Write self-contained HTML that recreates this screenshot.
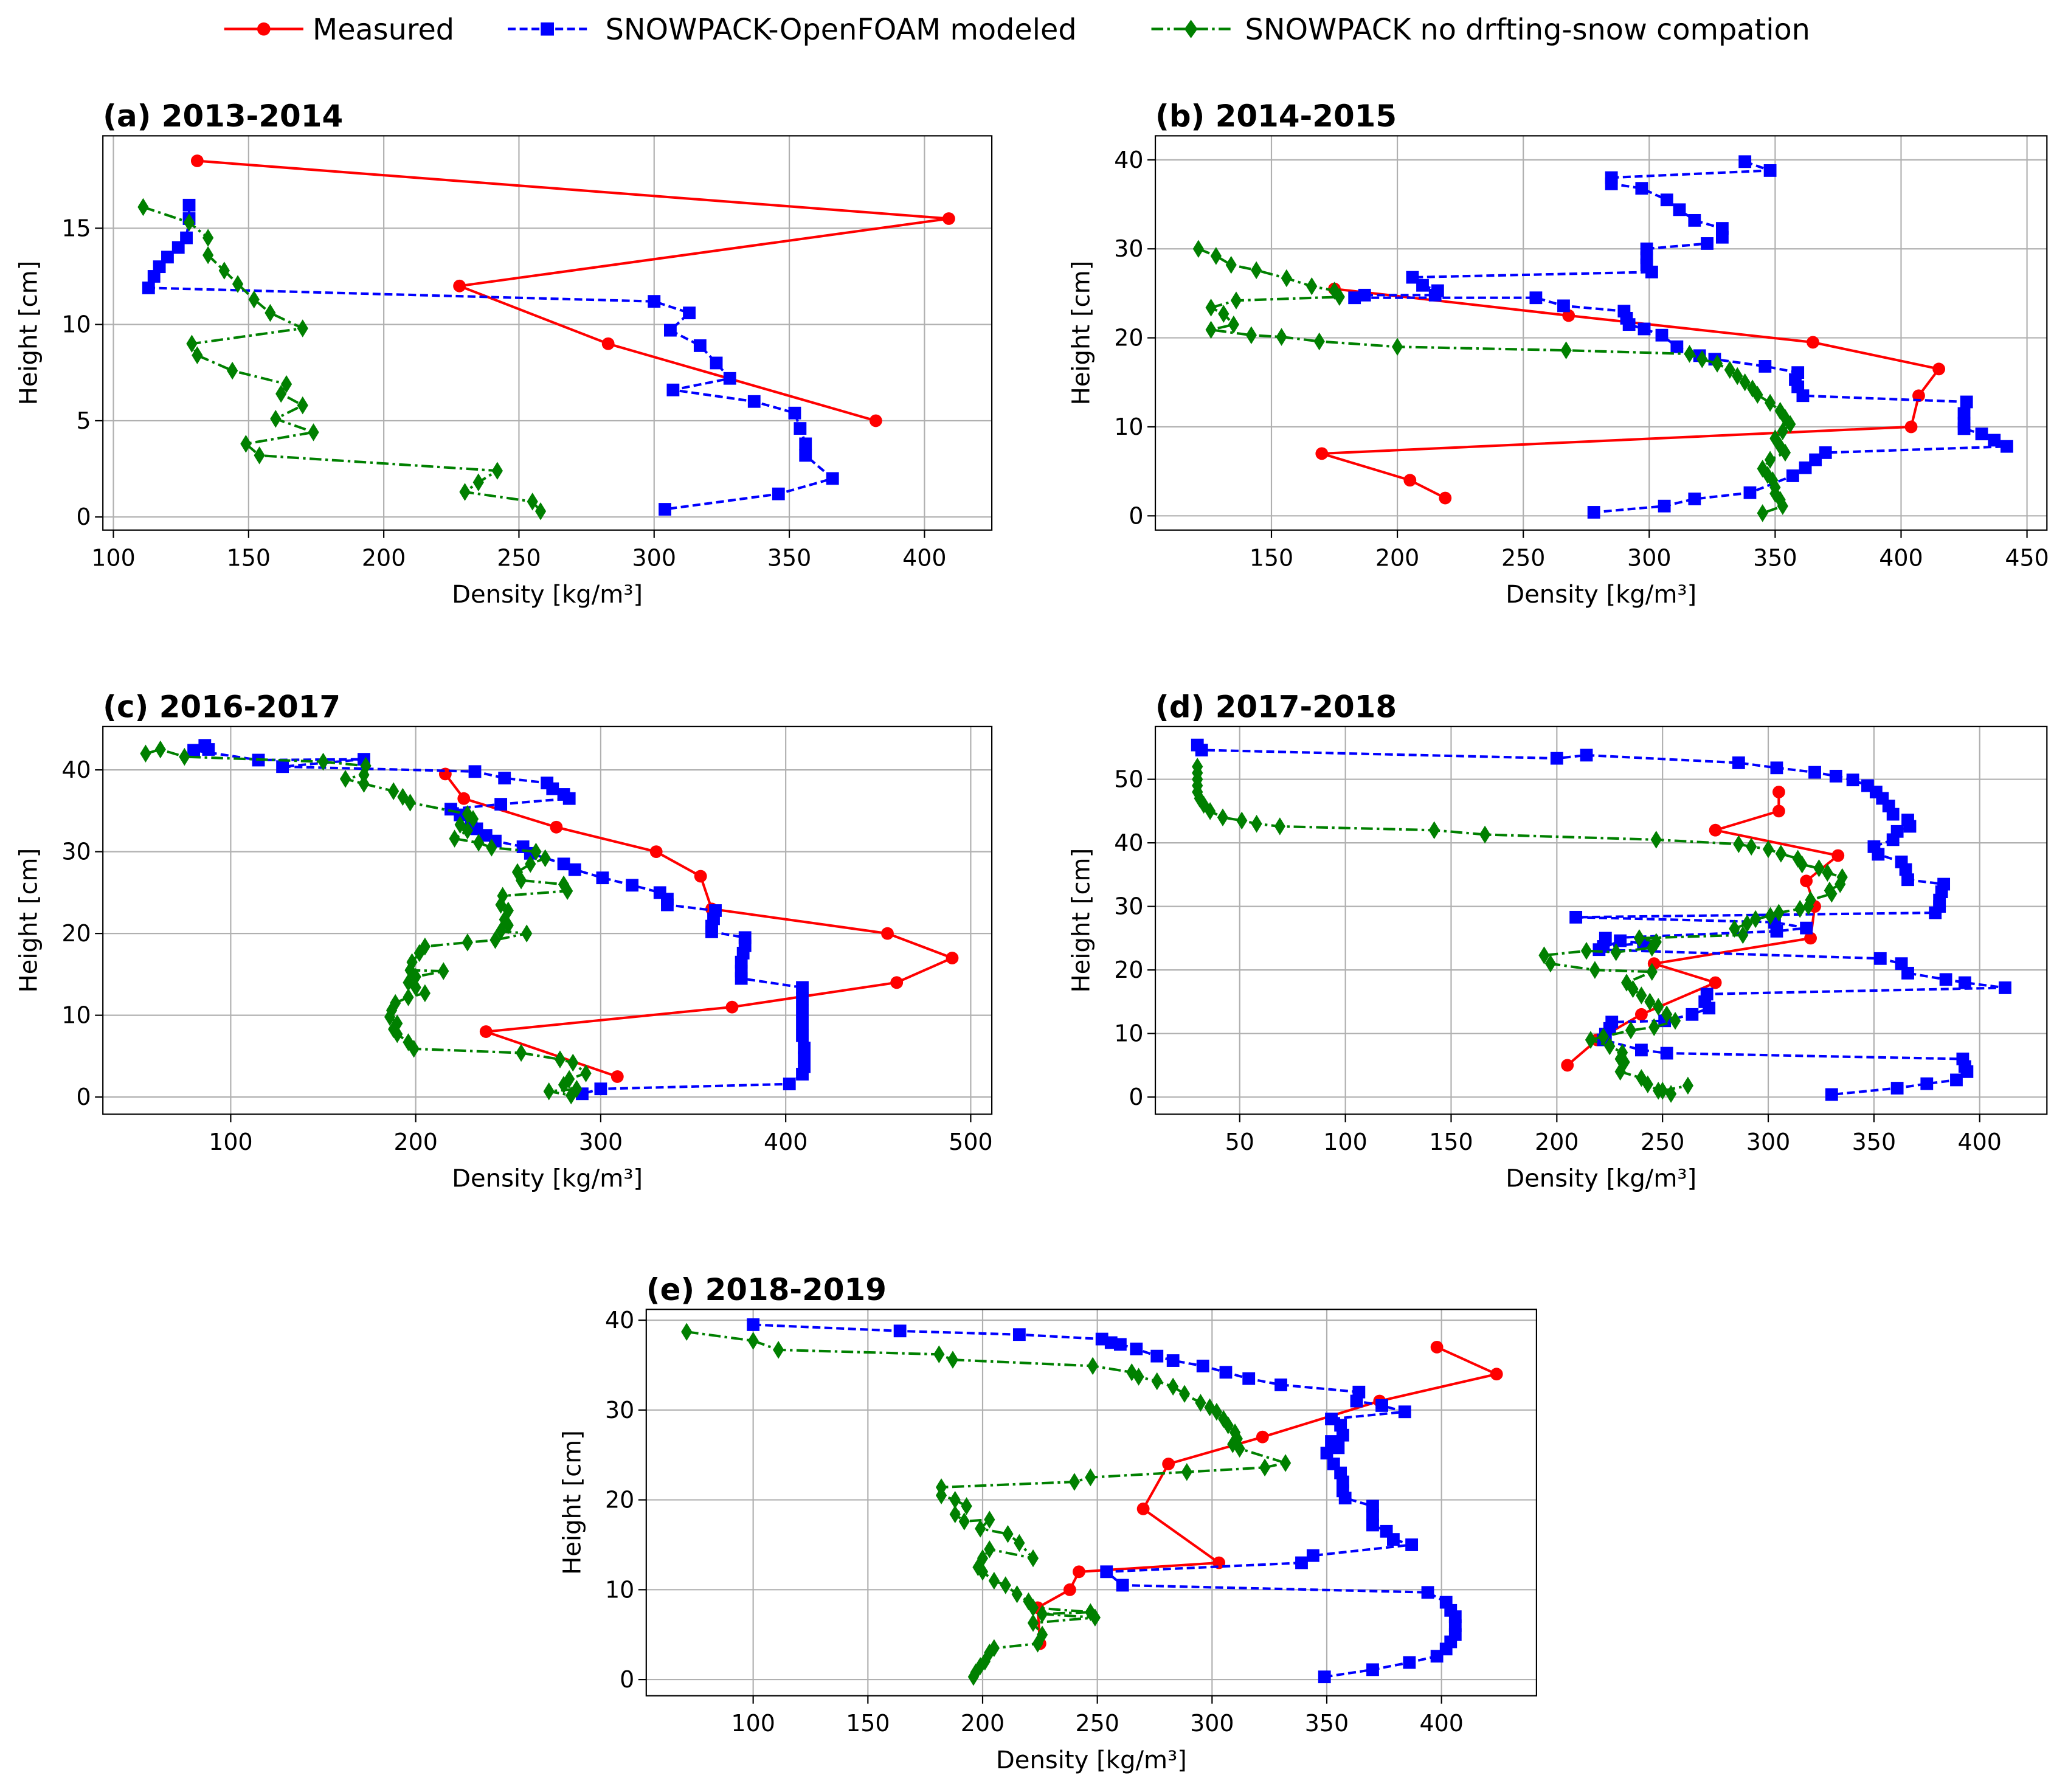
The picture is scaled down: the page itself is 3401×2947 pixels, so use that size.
<!DOCTYPE html>
<html><head><meta charset="utf-8"><style>
html,body{margin:0;padding:0;background:#fff}
svg{display:block}
text{font-family:"DejaVu Sans","Liberation Sans",sans-serif;fill:#000}
</style></head><body>
<svg id="chart" width="3401" height="2947" viewBox="0 0 1568 1359" preserveAspectRatio="none" xmlns="http://www.w3.org/2000/svg">
<rect width="1568" height="1359" fill="#fff"/>
<g>
<g><line x1="170" y1="22" x2="230" y2="22" stroke="#ff0000" stroke-width="2"/><circle cx="200" cy="22" r="5" fill="#ff0000"/><text x="237" y="30" font-size="22">Measured</text></g>
<g><line x1="385" y1="22" x2="445" y2="22" stroke="#0000ff" stroke-width="2" stroke-dasharray="6,3"/><rect x="410" y="17" width="10" height="10" fill="#0000ff"/><text x="459" y="30" font-size="22">SNOWPACK-OpenFOAM modeled</text></g>
<g><line x1="873" y1="22" x2="933" y2="22" stroke="#008000" stroke-width="2" stroke-dasharray="9,3,2,3"/><path d="M903,15 L908,22 L903,29 L898,22 Z" fill="#008000"/><text x="944" y="30" font-size="22">SNOWPACK no drfting-snow compation</text></g>
</g>
<g id="plots"></g>
</svg>
<script>
const titles=["(a) 2013-2014","(b) 2014-2015","(c) 2016-2017","(d) 2017-2018","(e) 2018-2019"];
const xTicksA=[100,150,200,250,300,350,400], yTicksA=[0,5,10,15];
const xTicksB=[150,200,250,300,350,400,450], yTicksB=[0,10,20,30,40];
const xTicksC=[100,200,300,400,500], yTicksC=[0,10,20,30,40];
const xTicksD=[50,100,150,200,250,300,350,400], yTicksD=[0,10,20,30,40,50];
const xTicksE=[100,150,200,250,300,350,400], yTicksE=[0,10,20,30,40];

const measA=[[131,18.5],[409,15.5],[228,12],[283,9],[382,5]];
const blueA=[[128,16.2],[128,15.5],[127,14.5],[124,14],[120,13.5],[117,13],[115,12.5],[113,11.9],[300,11.2],[313,10.6],[306,9.7],[317,8.9],[323,8],[328,7.2],[307,6.6],[337,6.0],[352,5.4],[354,4.6],[356,3.8],[356,3.2],[366,2],[346,1.2],[304,0.4]];
const greenA=[[111,16.1],[128,15.3],[135,14.5],[135,13.6],[141,12.8],[146,12.1],[152,11.3],[158,10.6],[170,9.8],[129,9.0],[131,8.4],[144,7.6],[164,6.9],[162,6.4],[170,5.8],[160,5.1],[174,4.4],[149,3.8],[154,3.2],[242,2.4],[235,1.8],[230,1.3],[255,0.8],[258,0.3]];

const measB=[[175,25.5],[268,22.5],[365,19.5],[415,16.5],[407,13.5],[404,10],[170,7],[205,4],[219,2]];
const blueB=[[338,39.8],[348,38.8],[285,38],[285,37.3],[297,36.8],[307,35.5],[312,34.4],[318,33.2],[329,32.3],[329,31.3],[323,30.6],[299,30],[299,29],[299,28.2],[301,27.4],[206,26.8],[210,25.9],[216,25.3],[215,24.8],[187,24.8],[183,24.5],[255,24.5],[266,23.6],[290,23],[291,22.2],[292,21.5],[298,21],[305,20.3],[311,19],[320,18],[326,17.6],[346,16.8],[359,16.1],[358,15.3],[359,14.5],[361,13.5],[426,12.8],[425,11.5],[425,10.4],[425,9.8],[432,9.2],[437,8.5],[442,7.8],[370,7.1],[366,6.3],[362,5.4],[357,4.5],[340,2.6],[318,1.9],[306,1.1],[278,0.4]];
const greenB=[[121,30],[128,29.2],[134,28.2],[144,27.6],[156,26.7],[166,25.8],[175,25.3],[177,24.6],[136,24.2],[126,23.4],[131,22.7],[135,21.5],[126,20.9],[142,20.3],[154,20.1],[169,19.6],[200,19.0],[267,18.6],[316,18.2],[321,17.6],[327,17.1],[332,16.4],[335,15.7],[338,15],[341,14.3],[343,13.6],[348,12.7],[352,11.8],[354,11.0],[356,10.3],[353,9.5],[350,8.7],[352,7.8],[354,7.1],[348,6.3],[345,5.3],[347,4.6],[349,4],[350,3.2],[350,2.5],[352,1.8],[353,1.1],[345,0.3]];

const measC=[[216,39.5],[226,36.5],[276,33],[330,30],[354,27],[360,23],[455,20],[490,17],[460,14],[371,11],[238,8],[309,2.5]];
const blueC=[[86,43],[88,42.5],[80,42.4],[115,41.2],[172,41.3],[128,40.4],[232,39.8],[248,39],[271,38.4],[274,37.7],[280,37],[283,36.5],[246,35.8],[219,35.2],[224,34.5],[230,33.4],[233,32.8],[238,32],[243,31.3],[258,30.6],[262,29.8],[280,28.5],[286,27.8],[301,26.8],[317,25.9],[332,25],[336,24.2],[336,23.5],[362,22.8],[361,21.8],[360,20.9],[360,20.2],[378,19.5],[378,18.5],[377,17.6],[376,16.5],[376,15.4],[376,14.5],[409,13.4],[409,12],[409,10.5],[409,9],[409,7.5],[410,6],[410,4.8],[410,3.7],[409,2.8],[402,1.6],[300,1],[290,0.4]];
const greenC=[[54,42],[62,42.5],[75,41.6],[150,41],[173,40.5],[172,39.4],[162,38.9],[172,38.3],[188,37.4],[193,36.7],[197,36],[228,34.6],[231,34],[224,33.3],[228,32.6],[221,31.6],[234,31.1],[241,30.5],[265,30],[270,29.2],[262,28.5],[255,27.5],[257,26.5],[280,26],[282,25.2],[247,24.6],[246,23.5],[250,22.8],[248,21.7],[250,21],[246,20.3],[260,20],[243,19.2],[228,18.9],[205,18.4],[202,17.6],[198,16.5],[197,15.5],[215,15.4],[200,14.7],[196,14],[200,13.4],[205,12.7],[196,12.2],[189,11.5],[187,10.6],[186,9.8],[190,9],[188,8.3],[190,7.7],[196,6.7],[199,5.9],[257,5.4],[278,4.6],[285,4.2],[292,2.9],[283,2.2],[280,1.5],[287,1],[272,0.7],[284,0.2]];

const measD=[[305,48],[305,45],[275,42],[333,38],[318,34],[322,30],[320,25],[246,21],[275,18],[240,13],[219,9],[205,5]];
const blueD=[[30,55.4],[32,54.6],[200,53.3],[214,53.8],[286,52.6],[304,51.8],[322,51.1],[332,50.5],[340,49.9],[347,49],[351,48],[354,47],[357,45.8],[359,44.5],[366,43.6],[367,42.6],[361,41.8],[359,40.5],[350,39.4],[352,38.2],[363,37],[365,35.8],[366,34.2],[383,33.5],[382,32.3],[381,31],[381,30],[379,29],[209,28.3],[303,27.5],[318,26.6],[304,26.1],[223,25],[222,23.7],[241,24.2],[230,24.6],[220,23.2],[353,21.8],[363,21],[366,19.5],[384,18.5],[393,18],[412,17.2],[271,16.2],[270,15],[272,14],[264,13],[251,12],[226,11.8],[225,10.8],[223,9.9],[222,9],[240,7.4],[252,6.9],[392,6],[393,4.8],[394,4],[389,2.7],[375,2.1],[361,1.4],[330,0.4]];
const greenD=[[30,52],[30,51],[30,50],[30,49],[30,48],[31,47],[33,46],[36,45],[42,44],[51,43.5],[58,43],[69,42.6],[142,42],[166,41.3],[247,40.5],[286,39.8],[292,39.4],[300,39],[306,38.3],[314,37.5],[316,36.6],[324,36],[328,35.3],[335,34.6],[334,33.5],[329,32.5],[330,32],[320,31],[319,30],[315,29.6],[305,29],[301,28.5],[294,28],[290,27.3],[284,26.5],[288,25.5],[239,25],[247,24.4],[245,23.5],[228,22.8],[214,23],[194,22.3],[197,21],[218,20],[245,19.7],[233,18],[236,17],[240,16],[244,15],[248,14.2],[252,13],[256,12],[246,11],[235,10.5],[222,9.5],[216,9],[225,8],[231,7],[230,6],[232,5.5],[230,4],[240,3],[243,2],[248,1],[254,0.5],[250,1],[262,1.8]];

const measE=[[398,37],[424,34],[373,31],[322,27],[281,24],[270,19],[303,13],[242,12],[238,10],[224,8],[225,4]];
const blueE=[[100,39.5],[164,38.8],[216,38.4],[252,37.9],[256,37.5],[260,37.3],[267,36.8],[276,36],[283,35.5],[296,34.9],[306,34.2],[316,33.5],[330,32.8],[364,32],[363,31],[374,30.5],[384,29.8],[352,29],[356,28.3],[357,27.2],[352,26.5],[355,25.8],[350,25.2],[353,24],[356,23],[357,22],[357,21],[358,20.2],[370,19.3],[370,18.3],[370,17.2],[376,16.5],[379,15.6],[387,15],[344,13.8],[339,13],[254,12],[261,10.5],[394,9.7],[402,8.6],[404,7.7],[406,7],[406,6],[406,5],[404,4.2],[402,3.4],[398,2.6],[386,1.9],[370,1.1],[349,0.3]];
const greenE=[[71,38.7],[100,37.7],[111,36.7],[181,36.2],[187,35.6],[248,34.9],[265,34.2],[268,33.7],[276,33.2],[283,32.6],[288,31.8],[295,30.8],[299,30.3],[302,29.8],[305,29],[307,28.3],[310,27.5],[311,26.8],[309,26.2],[312,25.7],[332,24.1],[323,23.6],[289,23.1],[247,22.5],[240,22],[182,21.4],[182,20.5],[188,20],[193,19.3],[188,18.4],[192,17.6],[203,17.8],[199,16.8],[211,16.2],[216,15.2],[222,13.5],[203,14.5],[200,13.5],[198,12.5],[200,12],[205,11],[210,10.5],[215,9.5],[220,8.7],[222,8],[247,7.5],[226,7.3],[249,6.9],[222,6.3],[226,5],[224,4],[205,3.5],[203,3],[201,2],[199,1.5],[197,0.8],[196,0.3]];

const panels=[
 {box:[78,103,752,402],xr:[96.1,424.9],yr:[-0.68,19.8],xt:xTicksA,yt:yTicksA,m:measA,b:blueA,g:greenA,id:"a"},
 {box:[876,103,1552,402],xr:[103.9,457.9],yr:[-1.6,42.7],xt:xTicksB,yt:yTicksB,m:measB,b:blueB,g:greenB,id:"b"},
 {box:[78,551,752,845],xr:[30.9,511.4],yr:[-2.1,45.3],xt:xTicksC,yt:yTicksC,m:measC,b:blueC,g:greenC,id:"c"},
 {box:[876,551,1552,845],xr:[10.1,431.8],yr:[-2.7,58.3],xt:xTicksD,yt:yTicksD,m:measD,b:blueD,g:greenD,id:"d"},
 {box:[490,993,1165,1286],xr:[53.4,441.4],yr:[-1.8,41.2],xt:xTicksE,yt:yTicksE,m:measE,b:blueE,g:greenE,id:"e"}
];
const NS="http://www.w3.org/2000/svg";
const root=document.getElementById('plots');
function mk(tag,attrs,parent){const e=document.createElementNS(NS,tag);for(const k in attrs)e.setAttribute(k,attrs[k]);parent.appendChild(e);return e;}
panels.forEach((p,pi)=>{
 const [x0,y0,x1,y1]=p.box;
 const sx=v=>x0+(v-p.xr[0])/(p.xr[1]-p.xr[0])*(x1-x0);
 const sy=v=>y1-(v-p.yr[0])/(p.yr[1]-p.yr[0])*(y1-y0);
 const g=mk('g',{},root);
 
 
 p.xt.forEach(t=>{const X=sx(t);
  const l=mk('line',{x1:X,x2:X,y1:y0,y2:y1,stroke:'#b0b0b0','stroke-width':1},g);
  
  mk('line',{x1:X,x2:X,y1:y1,y2:y1+6,stroke:'#000','stroke-width':1},g);
  const tx=mk('text',{x:X,y:y1+27,'font-size':17.5,'text-anchor':'middle'},g);tx.textContent=t;
  });
 p.yt.forEach(t=>{const Y=sy(t);
  const l=mk('line',{x1:x0,x2:x1,y1:Y,y2:Y,stroke:'#b0b0b0','stroke-width':1},g);
  
  mk('line',{x1:x0-6,x2:x0,y1:Y,y2:Y,stroke:'#000','stroke-width':1},g);
  const tx=mk('text',{x:x0-9,y:Y+6,'font-size':17.5,'text-anchor':'end'},g);tx.textContent=t;
  });
 const series=[[p.m,'#ff0000','none','circle','measured'],[p.b,'#0000ff','6,3','square','openfoam'],[p.g,'#008000','9,3,2,3','diamond','no-drift']];
 series.forEach(([d,c,da,mkr,nm])=>{
  const pts=d.map(q=>sx(q[0]).toFixed(1)+','+sy(q[1]).toFixed(1)).join(' ');
  const pl=mk('polyline',{points:pts,fill:'none',stroke:c,'stroke-width':1.9,'stroke-dasharray':da},g);
  
  d.forEach(q=>{const X=sx(q[0]),Y=sy(q[1]);let e;
   if(mkr==='circle')e=mk('circle',{cx:X,cy:Y,r:4.8,fill:c},g);
   else if(mkr==='square')e=mk('rect',{x:X-4.8,y:Y-4.8,width:9.6,height:9.6,fill:c},g);
   else e=mk('path',{d:`M${X},${Y-6.8}L${X+4.2},${Y}L${X},${Y+6.8}L${X-4.2},${Y}Z`,fill:c},g);
   });
 });
 const fr=mk('rect',{x:x0,y:y0,width:x1-x0,height:y1-y0,fill:'none',stroke:'#000','stroke-width':1},g);
 
 const ti=mk('text',{x:x0,y:y0-7,'font-size':23,'font-weight':'bold'},g);ti.textContent=titles[pi];
 
 const xl=mk('text',{x:(x0+x1)/2,y:y1+55,'font-size':18.5,'text-anchor':'middle'},g);xl.textContent='Density [kg/m³]';
 
 const yx=x0-50,yy=(y0+y1)/2;
 const yl=mk('text',{x:yx,y:yy,'font-size':18.5,'text-anchor':'middle',transform:`rotate(-90 ${yx} ${yy})`},g);yl.textContent='Height [cm]';
 
});
</script>
</body></html>
